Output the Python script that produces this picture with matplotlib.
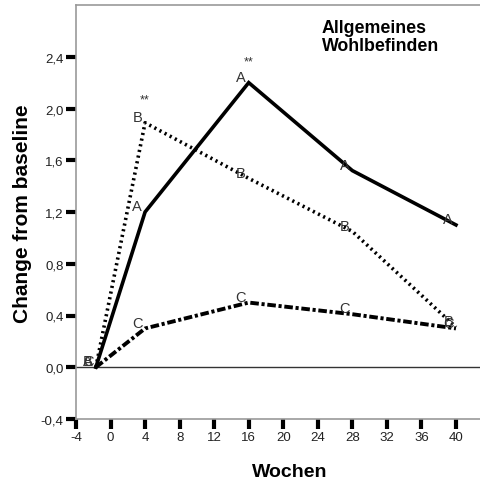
import matplotlib
matplotlib.use("Agg")
import matplotlib.pyplot as plt

plt.rcParams['font.family'] = ['Liberation Sans', 'DejaVu Sans']

weeks = [-1.7, 4, 16, 28, 40]
series_a = [0.0, 1.2, 2.2, 1.52, 1.1]
series_b = [0.0, 1.89, 1.46, 1.05, 0.31]
series_c = [0.0, 0.3, 0.5, 0.41, 0.3]
point_labels = ["A", "B", "C"]
star_weeks = [4, 16]
star_values = [2.07, 2.36]
x_ticks = list(range(-4, 41, 4))
y_ticks = [-0.4, 0.0, 0.4, 0.8, 1.2, 1.6, 2.0, 2.4]
y_ticklabels = ["-0,4", "0,0", "0,4", "0,8", "1,2", "1,6", "2,0", "2,4"]
title_text = "Allgemeines\nWohlbefinden"
x_label = "Wochen"
y_label = "Change from baseline"

fig = plt.figure(figsize=(4.81, 4.89), dpi=100)
ax = fig.add_axes([76/481, (489-420)/489, 1 - 76/481, (420-6)/489])
ax.set_xlim(-4, 42.9)
ax.set_ylim(-0.4, 2.8)

ax.axhline(0, color='#333333', lw=1.0, zorder=1)

ax.plot(weeks, series_a, color='black', lw=2.6, ls='-', solid_joinstyle='miter', zorder=3)
ax.plot(weeks, series_b, color='black', lw=2.6, ls=(0, (0.6, 1.0)), zorder=3)
ax.plot(weeks, series_c, color='black', lw=2.8, ls=(0, (2.2, 0.7, 0.8, 0.7)), zorder=3)

for lab, ys in zip(point_labels, [series_a, series_b, series_c]):
    for x, y in zip(weeks, ys):
        ax.text(x - 0.9, y + 0.045, lab, ha='center', va='center', fontsize=10.5,
                color='#333333', zorder=4)

for x, y in zip(star_weeks, star_values):
    ax.text(x, y, "**", ha='center', va='center', fontsize=9, color='#333333')

ax.text(321.7/481, 1 - 20/489, title_text, transform=fig.transFigure, ha='left',
        va='top', fontsize=12.8, fontweight='bold', linespacing=1.1)

ax.set_xticks(x_ticks)
ax.set_xticklabels([str(t) for t in x_ticks])
ax.set_yticks(y_ticks)
ax.set_yticklabels(y_ticklabels)
ax.tick_params(axis='both', direction='out', length=7, width=3, color='black',
               labelsize=9.5, labelcolor='#222222', pad=2)

for s in ['left', 'bottom', 'top']:
    ax.spines[s].set_color('#999999')
    ax.spines[s].set_linewidth(1.2)
ax.spines['right'].set_visible(False)

fig.text(290/481, 1 - 473/489, x_label, ha='center', va='center', fontsize=14,
         fontweight='bold')
fig.text(23/481, 1 - 214/489, y_label, ha='center', va='center', fontsize=15,
         fontweight='bold', rotation=90)

fig.savefig('out.png', dpi=100)
